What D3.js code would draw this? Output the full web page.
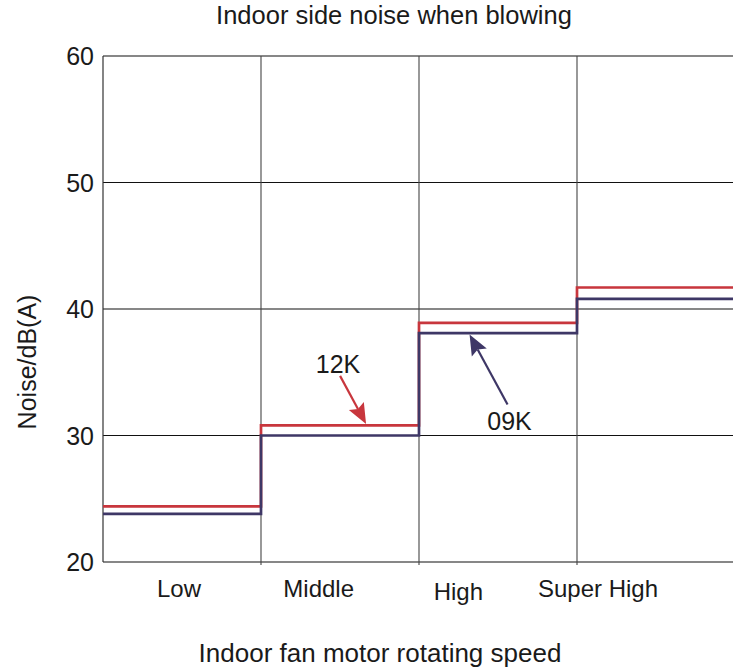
<!DOCTYPE html>
<html>
<head>
<meta charset="utf-8">
<script src="https://cdn.jsdelivr.net/npm/d3@7"></script>
<style>
  body { margin: 0; background: #fff; }
  svg text { font-family: "Liberation Sans", Arial, sans-serif; fill: #1a1a1a; }
</style>
</head>
<body>
<svg id="chart" width="733" height="667"></svg>
<script>
// data
const categories = ["Low", "Middle", "High", "Super High"];
const noise12K = [24.4, 30.8, 38.9, 41.7];
const noise09K = [23.8, 30.0, 38.1, 40.8];
const yTicks = [20, 30, 40, 50, 60];
const seriesNames = ["12K", "09K"];

const svg = d3.select("#chart");
const plotLeft = 103, plotRight = 735, plotTop = 56, plotBottom = 562;

const x = d3.scaleBand().domain(categories).range([plotLeft, plotRight]);
const y = d3.scaleLinear().domain([20, 60]).range([plotBottom, plotTop]);
// the category labels sit a bit left of the band centres in the original
const xLabel = d3.scalePoint().domain(categories).range([179, 598]);

// horizontal grid (black)
svg.append("g")
  .selectAll("line")
  .data(yTicks)
  .enter()
  .append("line")
    .attr("x1", plotLeft)
    .attr("x2", plotRight)
    .attr("y1", d => y(d))
    .attr("y2", d => y(d))
    .attr("stroke", "#111")
    .attr("stroke-width", 1.1);

// vertical grid between categories (grey), with small ticks below the axis
svg.append("g")
  .selectAll("line")
  .data(categories.slice(1))
  .enter()
  .append("line")
    .attr("x1", d => x(d))
    .attr("x2", d => x(d))
    .attr("y1", plotTop)
    .attr("y2", plotBottom + 3)
    .attr("stroke", "#444")
    .attr("stroke-width", 1.1);

// left axis line
svg.append("line")
  .attr("x1", plotLeft).attr("x2", plotLeft)
  .attr("y1", plotTop).attr("y2", plotBottom)
  .attr("stroke", "#333")
  .attr("stroke-width", 1.2);

// y tick labels
svg.append("g")
  .selectAll("text")
  .data(yTicks)
  .enter()
  .append("text")
    .attr("x", plotLeft - 9)
    .attr("y", d => y(d))
    .attr("dy", "0.36em")
    .attr("text-anchor", "end")
    .style("font-size", "25px")
    .text(d => d);

// category labels
svg.append("g")
  .selectAll("text")
  .data(categories)
  .enter()
  .append("text")
    .attr("x", d => xLabel(d))
    .attr("y", d => d == "High" ? 600 : 597)
    .attr("text-anchor", "middle")
    .style("font-size", "24px")
    .text(d => d);

// step lines
function stepPoints(values) {
  var pts = values.map((v, i) => [x(categories[i]), y(v)]);
  pts.push([plotRight, y(values[values.length - 1])]);
  return pts;
}
const stepLine = d3.line().curve(d3.curveStepAfter);
const colors = {"12K": "#c8363d", "09K": "#3e3766"};

[["12K", noise12K], ["09K", noise09K]].forEach(([name, vals]) => {
  svg.append("path")
    .attr("d", stepLine(stepPoints(vals)))
    .attr("fill", "none")
    .attr("stroke", colors[name])
    .attr("stroke-width", 2.7)
    .attr("stroke-linejoin", "miter");
});

// annotations: arrow tip on the line, tail offset, label offset from tail
const annotations = [
  {name: "12K", cat: "Middle", frac: 0.665, value: noise12K[1], tip: -1.5, dx: -26, dy: -48, lx: -2, ly: -3},
  {name: "09K", cat: "High", frac: 0.32, value: noise09K[2], tip: 1.5, dx: 38, dy: 70, lx: 2, ly: 25}
];

annotations.forEach(a => {
  var tx = x(a.cat) + x.bandwidth() * a.frac;
  var ty = y(a.value) + a.tip;
  var sx = tx + a.dx, sy = ty + a.dy;
  var ang = Math.atan2(ty - sy, tx - sx);
  var headLen = 17, headW = 8.5;
  var bx = tx - headLen * Math.cos(ang), by = ty - headLen * Math.sin(ang);
  svg.append("line")
    .attr("x1", sx).attr("y1", sy)
    .attr("x2", bx).attr("y2", by)
    .attr("stroke", colors[a.name])
    .attr("stroke-width", 2.2);
  var px = -Math.sin(ang) * headW, py = Math.cos(ang) * headW;
  var nx = tx - headLen * 1.2 * Math.cos(ang), ny = ty - headLen * 1.2 * Math.sin(ang);
  svg.append("path")
    .attr("d", `M${tx},${ty}L${nx + px},${ny + py}L${bx},${by}L${nx - px},${ny - py}Z`)
    .attr("fill", colors[a.name]);
  svg.append("text")
    .attr("x", sx + a.lx)
    .attr("y", sy + a.ly)
    .attr("text-anchor", "middle")
    .style("font-size", "25px")
    .text(a.name);
});

// titles
svg.append("text")
  .attr("x", 394)
  .attr("y", 24)
  .attr("text-anchor", "middle")
  .style("font-size", "25.5px")
  .text("Indoor side noise when blowing");

svg.append("text")
  .attr("x", 380)
  .attr("y", 662)
  .attr("text-anchor", "middle")
  .style("font-size", "26px")
  .text("Indoor fan motor rotating speed");

svg.append("text")
  .attr("transform", "translate(36,362) rotate(-90)")
  .attr("text-anchor", "middle")
  .style("font-size", "25px")
  .text("Noise/dB(A)");
</script>
</body>
</html>
